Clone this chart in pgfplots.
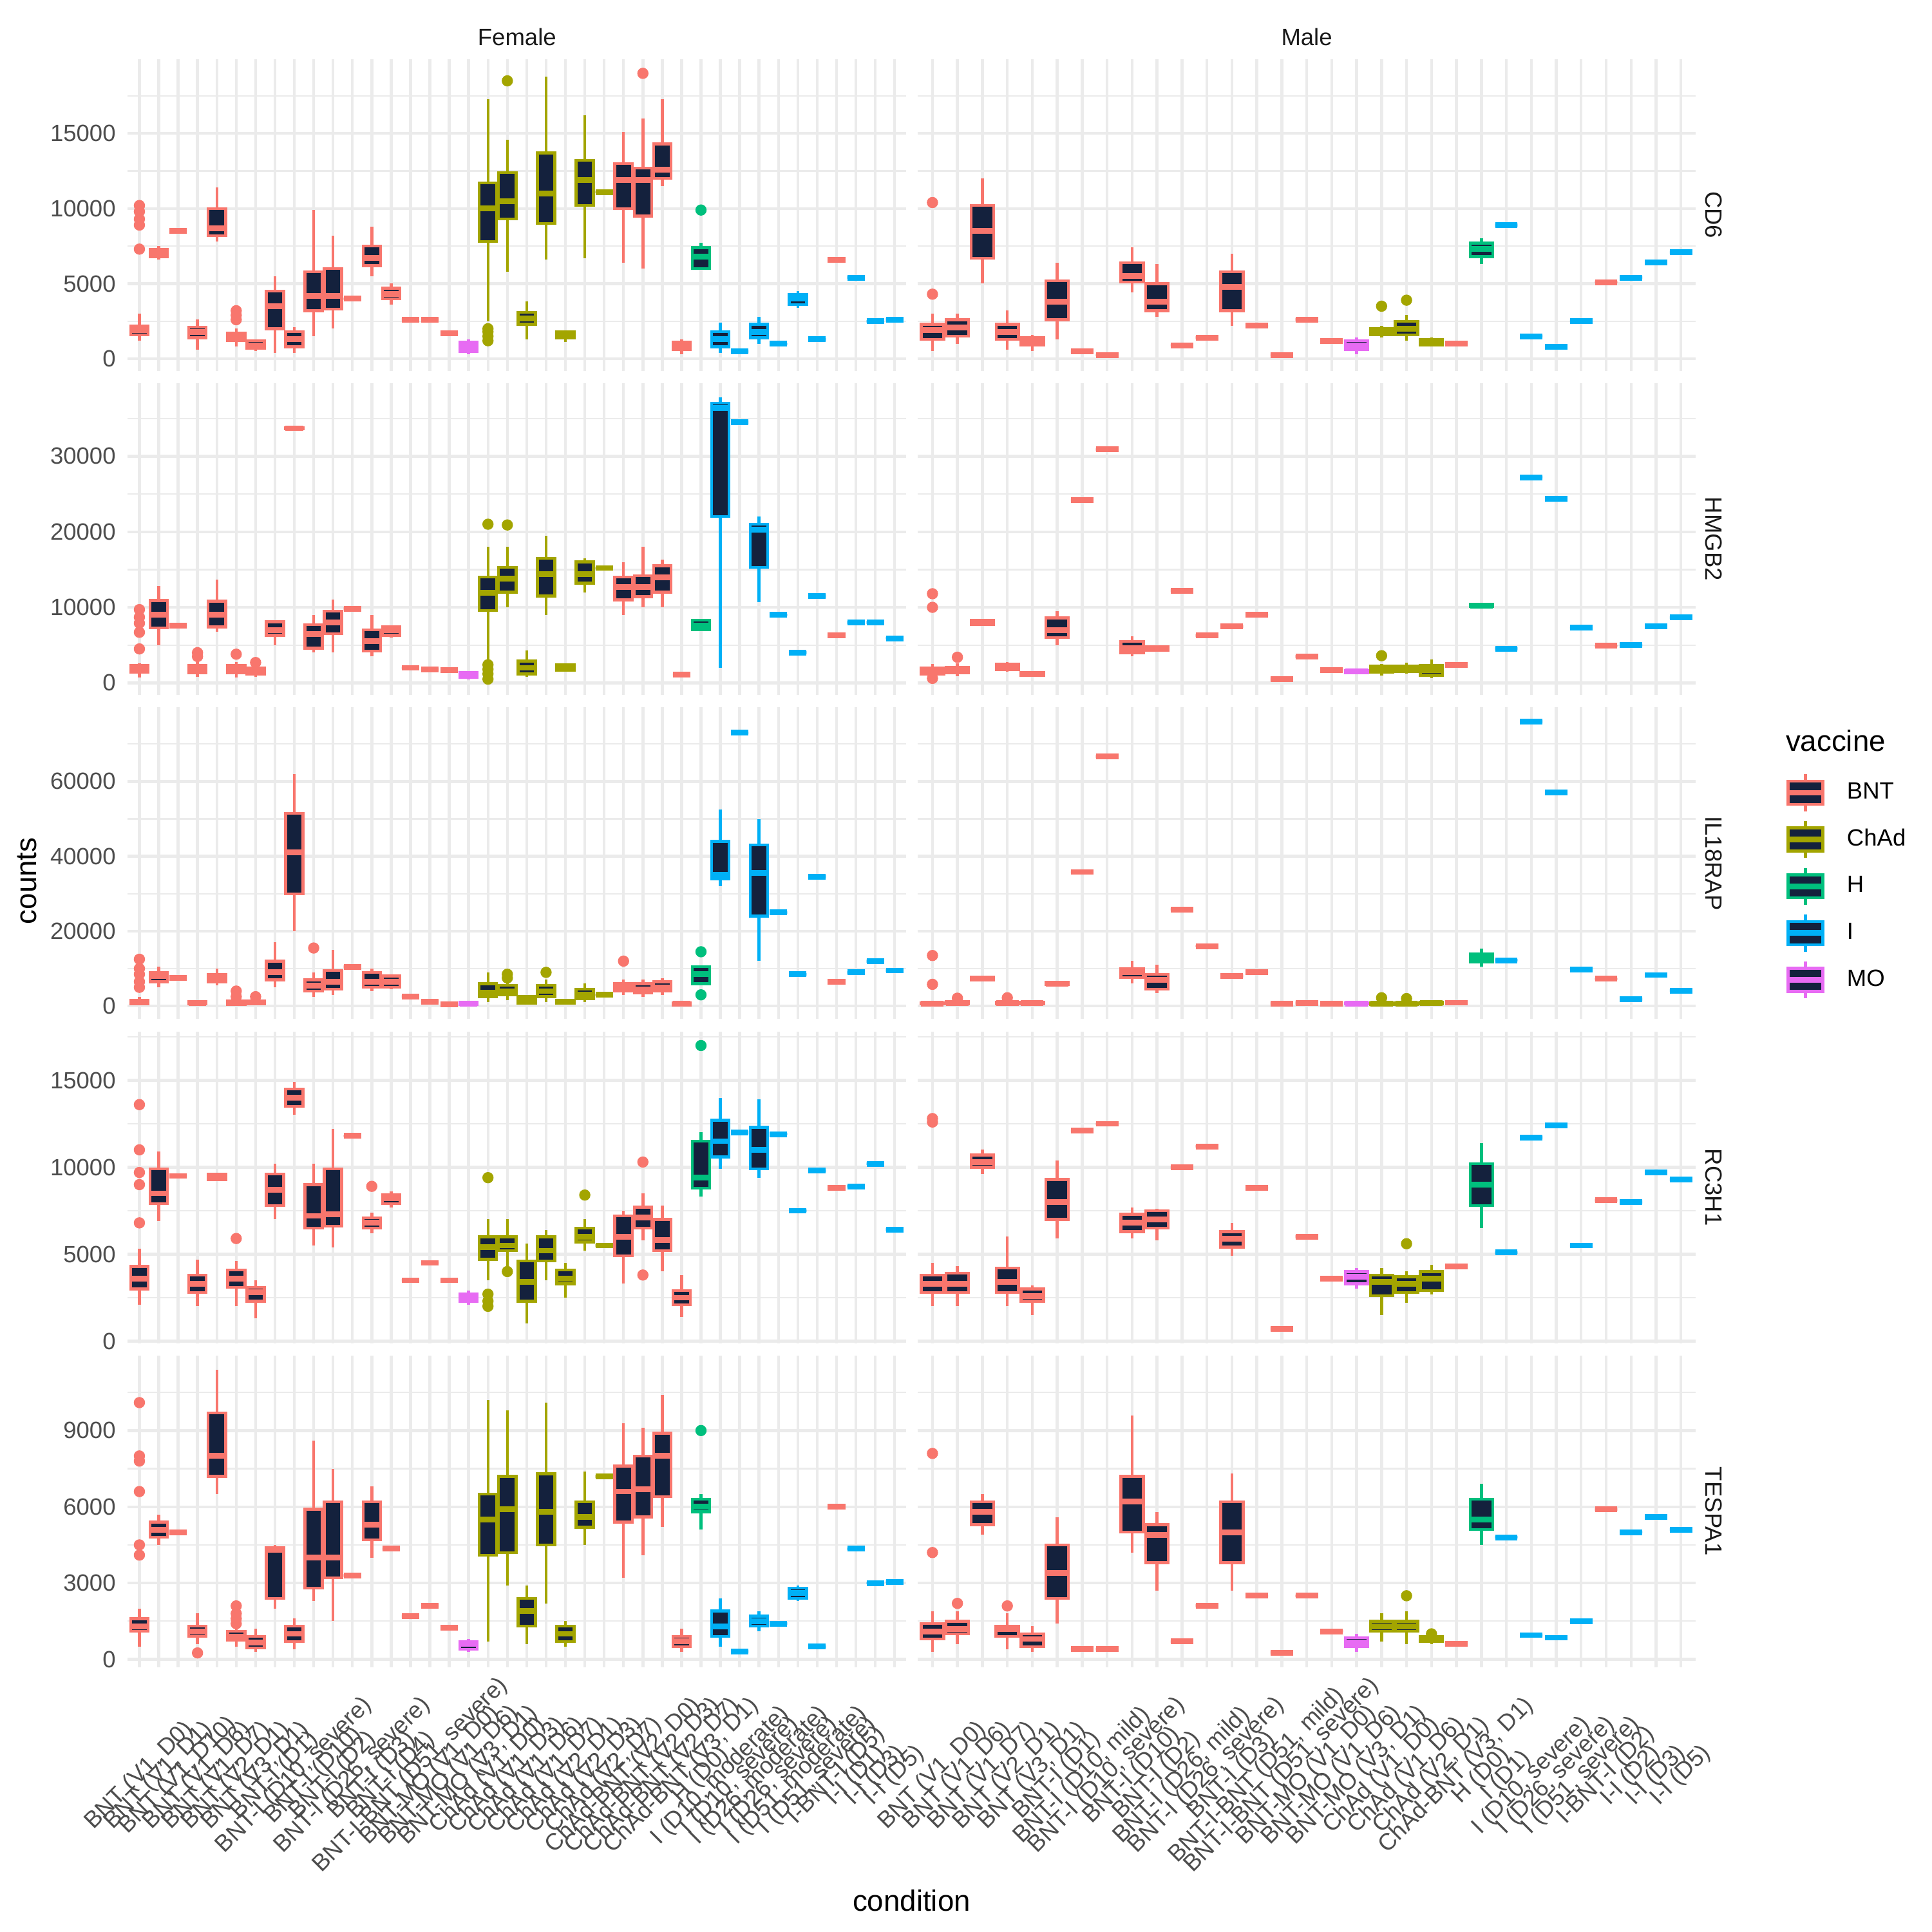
\documentclass[border=0pt]{standalone}
\usepackage{fontspec}
\setmainfont{Liberation Sans}
\usepackage{pgfplots}
\pgfplotsset{compat=1.18}
\definecolor{B}{HTML}{F8766D}
\definecolor{C}{HTML}{A3A500}
\definecolor{H}{HTML}{00BF7D}
\definecolor{I}{HTML}{00B0F6}
\definecolor{M}{HTML}{E76BF3}
\definecolor{navy}{HTML}{14213D}
\definecolor{gridc}{HTML}{EBEBEB}
\definecolor{tickc}{HTML}{4D4D4D}
\definecolor{stripc}{HTML}{1A1A1A}
\newcommand{\fs}{\fontsize{8.8}{10}\selectfont}
\newcommand{\ft}{\fontsize{11}{13}\selectfont}
% box: pos, lower whisker, q1, median, q3, upper whisker, colour
\newcommand{\bx}[7]{%
  \pgfmathsetmacro\xa{#1-0.45}\pgfmathsetmacro\xb{#1+0.45}%
  \edef\tmp{\noexpand\addplot[forget plot, draw=#7, line width=1.07pt] coordinates {(#1,#2)(#1,#6)};
    \noexpand\addplot[forget plot, draw=#7, fill=navy, line width=1.07pt] coordinates {(\xa,#3)(\xb,#3)(\xb,#5)(\xa,#5)} -- cycle;
    \noexpand\addplot[forget plot, draw=#7, line width=2.13pt] coordinates {(\xa,#4)(\xb,#4)};}%
  \tmp}
\newcommand{\fl}[3]{\bx{#1}{#2}{#2}{#2}{#2}{#2}{#3}}
\newcommand{\ol}[2]{\addplot[forget plot, only marks, mark=*, mark size=1.9pt, color=#1, mark options={draw=none, fill=#1}] coordinates {#2};}
\pgfplotsset{
  panel/.style={scale only axis, width=291.2pt, height=116.6pt, anchor=north west,
    axis line style={draw=none}, major tick length=0pt, minor tick length=0pt,
    xmajorgrids, ymajorgrids, yminorgrids,
    major grid style={gridc, line width=1.07pt},
    minor grid style={gridc, line width=0.53pt},
    tick label style={font=\fs, text=tickc},
    yticklabel style={anchor=east, xshift=-1pt},
    scaled y ticks=false,
    /pgf/number format/.cd, 1000 sep={}, assume math mode=true},
  fem/.style={panel, xmin=0.4, xmax=40.6, xtick={1,...,40}, xticklabels={}},
  mal/.style={panel, xmin=0.4, xmax=31.6, xtick={1,...,31}, xticklabels={}, yticklabels={}},
  r1/.style={ymin=-800, ymax=19950, ytick={0,5000,10000,15000}, minor ytick={2500,7500,12500,17500}},
  r2/.style={ymin=-1575, ymax=39675, ytick={0,10000,20000,30000}, minor ytick={5000,15000,25000,35000}},
  r3/.style={ymin=-3485, ymax=79785, ytick={0,20000,40000,60000}, minor ytick={10000,30000,50000,70000}},
  r4/.style={ymin=-115, ymax=17815, ytick={0,5000,10000,15000}, minor ytick={2500,7500,12500,17500}},
  r5/.style={ymin=-308, ymax=11958, ytick={0,3000,6000,9000,12000}, minor ytick={1500,4500,7500,10500}},
  ftop/.style={title={Female}, title style={font=\fs, text=stripc, at={(0.5,1)}, anchor=center, yshift=2.3pt}},
  mtop/.style={title={Male}, title style={font=\fs, text=stripc, at={(0.5,1)}, anchor=center, yshift=2.3pt}},
  xl/.style={xticklabel style={anchor=center, yshift=-40.6pt, rotate=45, font=\fs, text=tickc, inner sep=0pt}},
  legbox/.style={legend image code/.code={
    \draw[draw=#1, line width=1.07pt] (8.64pt,-6.91pt)--(8.64pt,-4.32pt) (8.64pt,4.32pt)--(8.64pt,6.91pt);
    \draw[draw=#1, fill=navy, line width=1.07pt] (2.16pt,-4.32pt) rectangle (15.12pt,4.32pt);
    \draw[draw=#1, line width=2.13pt] (2.16pt,0pt)--(15.12pt,0pt);}},
}
\newcommand{\rs}[2]{\node[rotate=-90, font=\fs, text=stripc] at ([xshift=6.6pt]#1.east) {#2};}
\begin{document}
\begin{tikzpicture}
\useasboundingbox (0,0) rectangle (722.7pt,-722.7pt);
% ================= Row 1 CD6 =================
\begin{axis}[fem, r1, ftop, at={(47.8pt,-22.1pt)}]
\bx{1}{1200}{1600}{1900}{2200}{3000}{B}\ol{B}{(1,7300)(1,8900)(1,9300)(1,9800)(1,10200)}
\bx{2}{6600}{6800}{7100}{7300}{7500}{B}
\fl{3}{8500}{B}
\bx{4}{600}{1400}{1800}{2100}{2600}{B}
\bx{5}{7800}{8200}{8700}{10000}{11400}{B}
\bx{6}{800}{1200}{1500}{1700}{2000}{B}\ol{B}{(6,2600)(6,2900)(6,3200)}
\bx{7}{500}{700}{900}{1200}{1300}{B}
\bx{8}{400}{2000}{3500}{4500}{5500}{B}
\bx{9}{400}{800}{1300}{1800}{2100}{B}
\bx{10}{1500}{3200}{4200}{5800}{9900}{B}
\bx{11}{2000}{3300}{4200}{6000}{8200}{B}
\fl{12}{4000}{B}
\bx{13}{5500}{6200}{6700}{7500}{8800}{B}
\bx{14}{3600}{4000}{4300}{4700}{5000}{B}
\fl{15}{2600}{B}
\fl{16}{2600}{B}
\fl{17}{1700}{B}
\bx{18}{300}{500}{800}{1100}{1300}{M}
\bx{19}{2500}{7800}{10000}{11700}{17300}{C}\ol{C}{(19,1200)(19,1500)(19,1800)(19,2000)}
\bx{20}{5800}{9300}{10500}{12400}{14600}{C}\ol{C}{(20,18500)}
\bx{21}{1300}{2300}{2700}{3100}{3800}{C}
\bx{22}{6600}{9000}{11000}{13700}{18800}{C}
\bx{23}{1100}{1400}{1600}{1800}{1900}{C}
\bx{24}{6700}{10200}{11900}{13200}{16200}{C}
\fl{25}{11100}{C}
\bx{26}{6400}{10000}{11900}{13000}{15100}{B}
\bx{27}{6000}{9500}{11900}{12700}{16000}{B}\ol{B}{(27,19000)}
\bx{28}{11500}{12000}{12600}{14300}{17300}{B}
\bx{29}{300}{600}{900}{1100}{1300}{B}
\bx{30}{5900}{6000}{6800}{7400}{7700}{H}\ol{H}{(30,9900)}
\bx{31}{400}{800}{1300}{1800}{2400}{I}
\fl{32}{500}{I}
\bx{33}{1000}{1400}{1800}{2300}{2800}{I}
\fl{34}{1000}{I}
\bx{35}{3400}{3600}{4000}{4300}{4500}{I}
\fl{36}{1300}{I}
\fl{37}{6600}{B}
\fl{38}{5400}{I}
\fl{39}{2500}{I}
\fl{40}{2600}{I}
\end{axis}
\begin{axis}[mal, r1, mtop, name=m1, at={(343.2pt,-22.1pt)}]
\bx{1}{500}{1300}{1900}{2300}{3000}{B}\ol{B}{(1,4300)(1,10400)}
\bx{2}{1000}{1500}{2100}{2600}{3000}{B}
\bx{3}{5000}{6700}{8500}{10200}{12000}{B}
\bx{4}{600}{1300}{1800}{2300}{3200}{B}
\bx{5}{500}{900}{1200}{1400}{1600}{B}
\bx{6}{1300}{2600}{3800}{5200}{6400}{B}
\fl{7}{500}{B}
\fl{8}{250}{B}
\bx{9}{4400}{5100}{5500}{6400}{7400}{B}
\bx{10}{2800}{3200}{3800}{5000}{6300}{B}
\fl{11}{900}{B}
\fl{12}{1400}{B}
\bx{13}{2200}{3200}{4800}{5800}{7000}{B}
\fl{14}{2200}{B}
\fl{15}{250}{B}
\fl{16}{2600}{B}
\fl{17}{1200}{B}
\bx{18}{300}{600}{900}{1200}{1400}{M}
\bx{19}{1400}{1600}{1800}{2000}{2200}{C}\ol{C}{(19,3500)}
\bx{20}{1200}{1600}{2000}{2500}{2900}{C}\ol{C}{(20,3900)}
\bx{21}{800}{900}{1100}{1300}{1400}{C}
\fl{22}{1000}{B}
\bx{23}{6300}{6800}{7300}{7700}{8000}{H}
\fl{24}{8900}{I}
\fl{25}{1500}{I}
\fl{26}{800}{I}
\fl{27}{2500}{I}
\fl{28}{5100}{B}
\fl{29}{5400}{I}
\fl{30}{6400}{I}
\fl{31}{7100}{I}
\end{axis}
% ================= Row 2 HMGB2 =================
\begin{axis}[fem, r2, at={(47.8pt,-143.3pt)}]
\bx{1}{700}{1400}{1800}{2300}{2600}{B}\ol{B}{(1,4500)(1,6700)(1,7900)(1,8700)(1,9700)}
\bx{2}{5000}{7300}{9000}{10900}{12800}{B}
\fl{3}{7600}{B}
\bx{4}{800}{1300}{1800}{2300}{3000}{B}\ol{B}{(4,3500)(4,4000)}
\bx{5}{6800}{7400}{9000}{10800}{13700}{B}
\bx{6}{700}{1300}{1800}{2300}{2800}{B}\ol{B}{(6,3800)}
\bx{7}{800}{1200}{1700}{2000}{2300}{B}\ol{B}{(7,2700)}
\bx{8}{5000}{6300}{7000}{8100}{8200}{B}
\bx{9}{33400}{33600}{33700}{33800}{34000}{B}
\bx{10}{4000}{4600}{6500}{7700}{9000}{B}
\bx{11}{4000}{6500}{8000}{9500}{11000}{B}
\fl{12}{9800}{B}
\bx{13}{3500}{4200}{5500}{7000}{9000}{B}
\bx{14}{6000}{6300}{7000}{7400}{7600}{B}
\fl{15}{2000}{B}
\fl{16}{1800}{B}
\fl{17}{1700}{B}
\bx{18}{500}{700}{1100}{1400}{1600}{M}
\bx{19}{3000}{9600}{11900}{14000}{18000}{C}\ol{C}{(19,500)(19,1200)(19,1800)(19,2400)(19,21000)}
\bx{20}{10000}{12000}{13800}{15300}{18000}{C}\ol{C}{(20,20900)}
\bx{21}{800}{1200}{2000}{2900}{4300}{C}
\bx{22}{9000}{11500}{14400}{16500}{19500}{C}
\bx{23}{1500}{1700}{2100}{2400}{2600}{C}
\bx{24}{12000}{13200}{14400}{16000}{16500}{C}
\fl{25}{15200}{C}
\bx{26}{9000}{11000}{12700}{14000}{16000}{B}
\bx{27}{10000}{11400}{12700}{14200}{18000}{B}
\bx{28}{10000}{12000}{14000}{15500}{16300}{B}
\fl{29}{1100}{B}
\bx{30}{7000}{7000}{7600}{8300}{8300}{H}
\bx{31}{2000}{22000}{36400}{37000}{37800}{I}
\fl{32}{34500}{I}
\bx{33}{10700}{15300}{20300}{21000}{22000}{I}
\fl{34}{9000}{I}
\fl{35}{4000}{I}
\fl{36}{11500}{I}
\fl{37}{6300}{B}
\fl{38}{8000}{I}
\fl{39}{8000}{I}
\fl{40}{5900}{I}
\end{axis}
\begin{axis}[mal, r2, name=m2, at={(343.2pt,-143.3pt)}]
\bx{1}{800}{1200}{1500}{2000}{2500}{B}\ol{B}{(1,600)(1,10000)(1,11800)}
\bx{2}{900}{1300}{1700}{2100}{2600}{B}\ol{B}{(2,3400)}
\bx{3}{7500}{7700}{8000}{8300}{8500}{B}
\bx{4}{1500}{1800}{2100}{2500}{2800}{B}
\bx{5}{800}{1000}{1200}{1400}{1600}{B}
\bx{6}{5000}{6000}{7000}{8600}{9500}{B}
\fl{7}{24200}{B}
\fl{8}{30900}{B}
\bx{9}{3500}{4000}{4600}{5500}{6200}{B}
\bx{10}{4100}{4300}{4500}{4800}{5000}{B}
\fl{11}{12200}{B}
\fl{12}{6300}{B}
\fl{13}{7500}{B}
\fl{14}{9000}{B}
\fl{15}{500}{B}
\fl{16}{3500}{B}
\fl{17}{1700}{B}
\bx{18}{1200}{1300}{1500}{1600}{1700}{M}
\bx{19}{1000}{1400}{1800}{2200}{2500}{C}\ol{C}{(19,3600)}
\bx{20}{1200}{1500}{1900}{2200}{2700}{C}
\bx{21}{600}{1000}{1700}{2300}{3100}{C}
\fl{22}{2400}{B}
\bx{23}{10000}{10100}{10200}{10400}{10500}{H}
\fl{24}{4500}{I}
\fl{25}{27200}{I}
\fl{26}{24400}{I}
\fl{27}{7300}{I}
\fl{28}{4900}{B}
\fl{29}{5000}{I}
\fl{30}{7500}{I}
\fl{31}{8700}{I}
\end{axis}
% ================= Row 3 IL18RAP =================
\begin{axis}[fem, r3, at={(47.8pt,-264.6pt)}]
\bx{1}{200}{500}{1000}{1500}{2500}{B}\ol{B}{(1,5000)(1,6500)(1,8500)(1,10000)(1,12500)}
\bx{2}{5000}{6500}{8000}{9000}{10500}{B}
\fl{3}{7500}{B}
\bx{4}{300}{500}{800}{1200}{1500}{B}
\bx{5}{5500}{6500}{7500}{8500}{10000}{B}
\bx{6}{200}{400}{800}{1300}{1800}{B}\ol{B}{(6,2500)(6,4000)}
\bx{7}{200}{500}{900}{1300}{1800}{B}\ol{B}{(7,2500)}
\bx{8}{5000}{7000}{9000}{12000}{17000}{B}
\bx{9}{20000}{30000}{41000}{51500}{62000}{B}
\bx{10}{2500}{4000}{5500}{7000}{9000}{B}\ol{B}{(10,15500)}
\bx{11}{3000}{4500}{6500}{9500}{15000}{B}
\fl{12}{10500}{B}
\bx{13}{4000}{5000}{6500}{9000}{10000}{B}
\bx{14}{4500}{5000}{6500}{8000}{8500}{B}
\fl{15}{2500}{B}
\fl{16}{1200}{B}
\fl{17}{400}{B}
\bx{18}{200}{400}{700}{1000}{1300}{M}
\bx{19}{1000}{2500}{3500}{6000}{9000}{C}
\bx{20}{1500}{3000}{4000}{5500}{7000}{C}\ol{C}{(20,7500)(20,8500)}
\bx{21}{300}{700}{1500}{2500}{3000}{C}
\bx{22}{1000}{2500}{4000}{5500}{7000}{C}\ol{C}{(22,9000)}
\bx{23}{400}{800}{1200}{1600}{2000}{C}
\bx{24}{1000}{2000}{3000}{4500}{6000}{C}
\fl{25}{3000}{C}
\bx{26}{3000}{4000}{5000}{6000}{7000}{B}\ol{B}{(26,12000)}
\bx{27}{2500}{3500}{4500}{6000}{7000}{B}
\bx{28}{3000}{4000}{5000}{6500}{7500}{B}
\bx{29}{100}{300}{600}{900}{1200}{B}
\bx{30}{6000}{6000}{8500}{10500}{10500}{H}\ol{H}{(30,3000)(30,14500)}
\bx{31}{32000}{34000}{35000}{44000}{52500}{I}
\fl{32}{73000}{I}
\bx{33}{12000}{24000}{35500}{43000}{50000}{I}
\fl{34}{25000}{I}
\fl{35}{8500}{I}
\fl{36}{34500}{I}
\fl{37}{6500}{B}
\fl{38}{9000}{I}
\fl{39}{12000}{I}
\fl{40}{9500}{I}
\end{axis}
\begin{axis}[mal, r3, name=m3, at={(343.2pt,-264.6pt)},
  legend style={at={(1.114,0.426)}, anchor=west, draw=none, fill=none, font=\fs, text=black,
    row sep=2.6pt, column sep=6pt, inner sep=0pt}, legend cell align=left]
\bx{1}{200}{500}{700}{900}{1300}{B}\ol{B}{(1,5800)(1,13500)}
\bx{2}{200}{500}{800}{1200}{1600}{B}\ol{B}{(2,2100)}
\bx{3}{6500}{6900}{7400}{7800}{8200}{B}
\bx{4}{200}{500}{800}{1100}{1500}{B}\ol{B}{(4,2200)}
\bx{5}{200}{500}{800}{1000}{1300}{B}
\bx{6}{5500}{5700}{6000}{6400}{6700}{B}
\fl{7}{35800}{B}
\fl{8}{66700}{B}
\bx{9}{6000}{7600}{9000}{10000}{12000}{B}
\bx{10}{3500}{4500}{7000}{8500}{11000}{B}
\fl{11}{25800}{B}
\fl{12}{16000}{B}
\fl{13}{8000}{B}
\fl{14}{9000}{B}
\fl{15}{600}{B}
\fl{16}{800}{B}
\fl{17}{600}{B}
\bx{18}{300}{500}{700}{900}{1100}{M}
\bx{19}{200}{400}{600}{800}{1100}{C}\ol{C}{(19,2200)}
\bx{20}{200}{400}{600}{900}{1200}{C}\ol{C}{(20,2000)}
\bx{21}{400}{600}{800}{1000}{1200}{C}
\fl{22}{900}{B}
\bx{23}{10600}{11800}{13000}{14000}{15400}{H}
\fl{24}{12200}{I}
\fl{25}{76000}{I}
\fl{26}{57000}{I}
\fl{27}{9800}{I}
\fl{28}{7300}{B}
\fl{29}{1800}{I}
\fl{30}{8300}{I}
\fl{31}{4100}{I}
\addlegendimage{legbox=B}\addlegendentry{BNT}
\addlegendimage{legbox=C}\addlegendentry{ChAd}
\addlegendimage{legbox=H}\addlegendentry{H}
\addlegendimage{legbox=I}\addlegendentry{I}
\addlegendimage{legbox=M}\addlegendentry{MO}
\end{axis}
% ================= Row 4 RC3H1 =================
\begin{axis}[fem, r4, at={(47.8pt,-385.8pt)}]
\bx{1}{2100}{3000}{3600}{4300}{5300}{B}\ol{B}{(1,6800)(1,9000)(1,9700)(1,11000)(1,13600)}
\bx{2}{6900}{7900}{8500}{9900}{10900}{B}
\fl{3}{9500}{B}
\bx{4}{2000}{2800}{3300}{3800}{4700}{B}
\bx{5}{9200}{9300}{9400}{9600}{9700}{B}
\bx{6}{2000}{3100}{3600}{4100}{4600}{B}\ol{B}{(6,5900)}
\bx{7}{1300}{2300}{2800}{3100}{3500}{B}
\bx{8}{7000}{7800}{8700}{9600}{10200}{B}
\bx{9}{13000}{13500}{14000}{14500}{14900}{B}
\bx{10}{5500}{6500}{7200}{9000}{10200}{B}
\bx{11}{5400}{6600}{7300}{9900}{12200}{B}
\fl{12}{11800}{B}
\bx{13}{6200}{6500}{6800}{7100}{7400}{B}\ol{B}{(13,8900)}
\bx{14}{7700}{7900}{8200}{8400}{8600}{B}
\fl{15}{3500}{B}
\fl{16}{4500}{B}
\fl{17}{3500}{B}
\bx{18}{2100}{2300}{2500}{2700}{2900}{M}
\bx{19}{3500}{4700}{5400}{6000}{7000}{C}\ol{C}{(19,2000)(19,2300)(19,2700)(19,9400)}
\bx{20}{4300}{5200}{5500}{6000}{7000}{C}\ol{C}{(20,4000)}
\bx{21}{1000}{2300}{3400}{4600}{5600}{C}
\bx{22}{3500}{4600}{5200}{6000}{6400}{C}
\bx{23}{2500}{3300}{3600}{4100}{4500}{C}
\bx{24}{5200}{5700}{6000}{6500}{7000}{C}\ol{C}{(24,8400)}
\fl{25}{5500}{C}
\bx{26}{3300}{4900}{6000}{7200}{7500}{B}
\bx{27}{5800}{6500}{7100}{7700}{8500}{B}\ol{B}{(27,3800)(27,10300)}
\bx{28}{4000}{5200}{5800}{7000}{7800}{B}
\bx{29}{1400}{2100}{2500}{2900}{3800}{B}
\bx{30}{8300}{8800}{9400}{11500}{12000}{H}\ol{H}{(30,17000)}
\bx{31}{9900}{10600}{11500}{12700}{14000}{I}
\fl{32}{12000}{I}
\bx{33}{9400}{9900}{11000}{12300}{13900}{I}
\fl{34}{11900}{I}
\fl{35}{7500}{I}
\fl{36}{9800}{I}
\fl{37}{8800}{B}
\fl{38}{8900}{I}
\fl{39}{10200}{I}
\fl{40}{6400}{I}
\end{axis}
\begin{axis}[mal, r4, name=m4, at={(343.2pt,-385.8pt)}]
\bx{1}{2000}{2800}{3300}{3800}{4500}{B}\ol{B}{(1,12600)(1,12800)}
\bx{2}{2000}{2800}{3300}{3900}{4300}{B}
\bx{3}{9600}{10000}{10300}{10700}{11000}{B}
\bx{4}{2000}{2800}{3400}{4200}{6000}{B}
\bx{5}{1500}{2300}{2600}{3000}{3200}{B}
\bx{6}{5900}{7000}{8000}{9300}{10400}{B}
\fl{7}{12100}{B}
\fl{8}{12500}{B}
\bx{9}{5900}{6300}{6800}{7300}{7700}{B}
\bx{10}{5800}{6500}{7000}{7500}{7600}{B}
\fl{11}{10000}{B}
\fl{12}{11200}{B}
\bx{13}{4900}{5400}{5900}{6300}{6800}{B}
\fl{14}{8800}{B}
\fl{15}{700}{B}
\fl{16}{6000}{B}
\fl{17}{3600}{B}
\bx{18}{3000}{3300}{3700}{4000}{4200}{M}
\bx{19}{1500}{2600}{3400}{3800}{4200}{C}
\bx{20}{2200}{2800}{3300}{3700}{4000}{C}\ol{C}{(20,5600)}
\bx{21}{2700}{2900}{3600}{4000}{4400}{C}
\fl{22}{4300}{B}
\bx{23}{6500}{7800}{9000}{10200}{11400}{H}
\fl{24}{5100}{I}
\fl{25}{11700}{I}
\fl{26}{12400}{I}
\fl{27}{5500}{I}
\fl{28}{8100}{B}
\fl{29}{8000}{I}
\fl{30}{9700}{I}
\fl{31}{9300}{I}
\end{axis}
% ================= Row 5 TESPA1 =================
\begin{axis}[fem, r5, xl, at={(47.8pt,-507.0pt)},
  xticklabels={{BNT (V1, D0)},{BNT (V1, D1)},{BNT (V1, D10)},{BNT (V1, D6)},{BNT (V1, D7)},{BNT (V2, D1)},{BNT (V3, D1)},{BNT-I (D1)},{BNT-I (D10, severe)},{BNT-I (D10)},{BNT-I (D2)},{BNT-I (D26, severe)},{BNT-I (D3)},{BNT-I (D4)},{BNT-I-BNT (D51, severe)},{BNT-MO (V1, D0)},{BNT-MO (V1, D6)},{BNT-MO (V3, D1)},{ChAd (V1, D0)},{ChAd (V1, D3)},{ChAd (V1, D6)},{ChAd (V1, D7)},{ChAd (V2, D1)},{ChAd (V2, D3)},{ChAd (V2, D7)},{ChAd-BNT (V2, D0)},{ChAd-BNT (V2, D3)},{ChAd-BNT (V2, D7)},{ChAd-BNT (V3, D1)},{H (D0)},{I (D10, moderate)},{I (D10, severe)},{I (D26, moderate)},{I (D26, severe)},{I (D51, moderate)},{I (D51, severe)},{I-BNT-I (D5)},{I-I (D1)},{I-I (D3)},{I-I (D5)}}]
\bx{1}{500}{1100}{1300}{1600}{2000}{B}\ol{B}{(1,4100)(1,4500)(1,6600)(1,7800)(1,8000)(1,10100)}
\bx{2}{4500}{4800}{5100}{5400}{5700}{B}
\fl{3}{5000}{B}
\bx{4}{600}{900}{1100}{1300}{1800}{B}\ol{B}{(4,250)}
\bx{5}{6500}{7200}{8000}{9700}{11400}{B}
\bx{6}{500}{750}{900}{1100}{1300}{B}\ol{B}{(6,1400)(6,1600)(6,1800)(6,2100)}
\bx{7}{300}{450}{650}{900}{1200}{B}
\bx{8}{2000}{2400}{4300}{4400}{4500}{B}
\bx{9}{400}{700}{1000}{1300}{1600}{B}
\bx{10}{2300}{2800}{4000}{5900}{8600}{B}
\bx{11}{1500}{3200}{4000}{6200}{7500}{B}
\fl{12}{3300}{B}
\bx{13}{4000}{4700}{5300}{6200}{6800}{B}
\fl{14}{4350}{B}
\fl{15}{1700}{B}
\fl{16}{2100}{B}
\fl{17}{1250}{B}
\bx{18}{300}{400}{600}{700}{800}{M}
\bx{19}{700}{4100}{5500}{6500}{10200}{C}
\bx{20}{2900}{4200}{5900}{7200}{9800}{C}
\bx{21}{600}{1300}{1900}{2400}{2900}{C}
\bx{22}{2200}{4500}{5800}{7300}{10100}{C}
\bx{23}{500}{700}{1000}{1300}{1500}{C}
\bx{24}{4500}{5200}{5600}{6200}{7400}{C}
\fl{25}{7200}{C}
\bx{26}{3200}{5400}{6600}{7600}{9300}{B}
\bx{27}{4100}{5600}{6700}{8000}{9100}{B}
\bx{28}{5200}{6400}{8000}{8900}{10400}{B}
\bx{29}{300}{500}{700}{900}{1200}{B}
\bx{30}{5100}{5800}{6000}{6300}{6500}{H}\ol{H}{(30,9000)}
\bx{31}{500}{900}{1300}{1900}{2400}{I}
\fl{32}{300}{I}
\bx{33}{1100}{1300}{1500}{1700}{1900}{I}
\fl{34}{1400}{I}
\bx{35}{2300}{2400}{2600}{2800}{2900}{I}
\fl{36}{500}{I}
\fl{37}{6000}{B}
\fl{38}{4350}{I}
\fl{39}{3000}{I}
\fl{40}{3050}{I}
\end{axis}
\begin{axis}[mal, r5, xl, name=m5, at={(343.2pt,-507.0pt)},
  xticklabels={{BNT (V1, D0)},{BNT (V1, D6)},{BNT (V1, D7)},{BNT (V2, D1)},{BNT (V3, D1)},{BNT-I (D1)},{BNT-I (D10, mild)},{BNT-I (D10, severe)},{BNT-I (D10)},{BNT-I (D2)},{BNT-I (D26, mild)},{BNT-I (D26, severe)},{BNT-I (D3)},{BNT-I-BNT (D51, mild)},{BNT-I-BNT (D51, severe)},{BNT-MO (V1, D0)},{BNT-MO (V1, D6)},{BNT-MO (V3, D1)},{ChAd (V1, D0)},{ChAd (V1, D6)},{ChAd (V2, D1)},{ChAd-BNT (V3, D1)},{H (D0)},{I (D1)},{I (D10, severe)},{I (D26, severe)},{I (D51, severe)},{I-BNT-I (D2)},{I-I (D2)},{I-I (D3)},{I-I (D5)}}]
\bx{1}{300}{800}{1100}{1400}{1900}{B}\ol{B}{(1,4200)(1,8100)}
\bx{2}{600}{1000}{1200}{1500}{1900}{B}\ol{B}{(2,2200)}
\bx{3}{4900}{5300}{5800}{6200}{6500}{B}
\bx{4}{400}{900}{1200}{1300}{1800}{B}\ol{B}{(4,2100)}
\bx{5}{300}{500}{800}{1000}{1300}{B}
\bx{6}{1400}{2400}{3400}{4500}{5600}{B}
\fl{7}{400}{B}
\fl{8}{400}{B}
\bx{9}{4200}{5000}{6200}{7200}{9600}{B}
\bx{10}{2700}{3800}{4900}{5300}{5800}{B}
\fl{11}{700}{B}
\fl{12}{2100}{B}
\bx{13}{2700}{3800}{5000}{6200}{7300}{B}
\fl{14}{2500}{B}
\fl{15}{250}{B}
\fl{16}{2500}{B}
\fl{17}{1100}{B}
\bx{18}{300}{500}{650}{850}{1000}{M}
\bx{19}{700}{1100}{1300}{1500}{1800}{C}
\bx{20}{600}{1100}{1300}{1500}{1900}{C}\ol{C}{(20,2500)}
\bx{21}{600}{700}{800}{900}{950}{C}\ol{C}{(21,1000)}
\fl{22}{600}{B}
\bx{23}{4500}{5100}{5500}{6300}{6900}{H}
\fl{24}{4800}{I}
\fl{25}{950}{I}
\fl{26}{850}{I}
\fl{27}{1500}{I}
\fl{28}{5900}{B}
\fl{29}{5000}{I}
\fl{30}{5600}{I}
\fl{31}{5100}{I}
\end{axis}
\rs{m1}{CD6}
\rs{m2}{HMGB2}
\rs{m3}{IL18RAP}
\rs{m4}{RC3H1}
\rs{m5}{TESPA1}
\node[rotate=90, font=\ft] at (10.1pt,-329.5pt) {counts};
\node[font=\ft] at (341pt,-711pt) {condition};
\node[anchor=west, font=\ft] at (664.5pt,-277pt) {vaccine};
\end{tikzpicture}
\end{document}
